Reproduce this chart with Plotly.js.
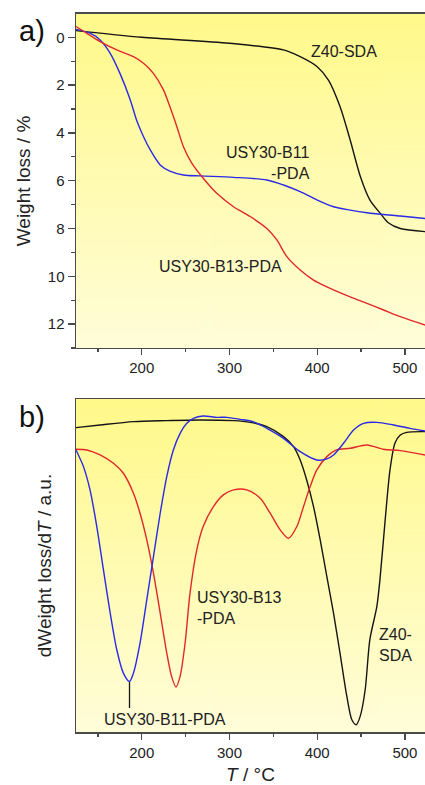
<!DOCTYPE html>
<html><head><meta charset="utf-8">
<script src="https://cdn.plot.ly/plotly-3.0.1.min.js"></script>
<style>html,body{margin:0;padding:0;overflow:hidden;background:#fff}</style>
</head><body>
<div id="chart" style="width:425px;height:785px"></div>
<script>
// ---- Panel a) TGA: weight loss (%) vs T (°C)
const tgaZ40T   = [125,200,300,361.6,380,400,413,426,437.6,449,460,472,481,494.7,523];
const tgaZ40W   = [-0.28,0.0,0.25,0.53,0.8,1.23,1.8,2.9,4.3,5.8,6.8,7.37,7.76,8.0,8.13];
const tgaB11T   = [125,141,152.5,164,175,186.7,194,202,209.5,221,232,247.5,266.5,304.6,342.6,361.6,380.6,399.6,418.6,437.6,456.7,494.7,523];
const tgaB11W   = [-0.33,-0.17,0.11,0.67,1.5,2.6,3.46,4.16,4.7,5.34,5.6,5.76,5.8,5.86,5.97,6.18,6.46,6.8,7.09,7.23,7.34,7.48,7.58];
const tgaB13T   = [125,137,152.5,171.5,190.5,202,213,224.7,232,240,247.5,257,270,285.5,304.6,323.6,342.6,354,365.4,380.6,395.8,411,437.6,456.7,475.7,494.7,523];
const tgaB13W   = [-0.45,-0.17,0.18,0.53,0.81,1.09,1.5,2.2,2.9,3.74,4.58,5.27,5.9,6.53,7.09,7.5,8.0,8.48,9.18,9.74,10.16,10.44,10.86,11.13,11.41,11.69,12.04];

// ---- Panel b) DTG: dWeight loss/dT (a.u.) vs T (°C)
const dtgZ40T = [125,152.5,190.5,228.5,266.5,304.6,323.6,342.6,361.6,373,380.6,388,395.8,403.4,411,418.6,426,433.8,439.5,444.5,449,454.7,460,468,471.5,477.5,483,488.6,494.7,502,523];
const dtgZ40V = [-8.6,-7.8,-6.8,-6.5,-6.3,-6.5,-7.0,-8.3,-11.3,-14.3,-18.3,-24.3,-32.3,-42.3,-53.3,-64.3,-76.3,-89.3,-96.3,-97.8,-95.3,-87.3,-72.3,-62.3,-54.3,-36.3,-21.3,-13.3,-10.8,-10.0,-9.8];
const dtgB11T = [125,133.5,141,148.7,156.3,164,171.5,179,186,190.5,198,205.7,213.3,221,228.5,236,243.7,251.3,259,270,285.5,297,312,327,342.6,361.6,380.6,399.6,411,418.6,430,441.4,452.8,468,487,505.7,523];
const dtgB11V = [-15.3,-20.3,-27.3,-38.3,-51.3,-64.3,-75.3,-82.3,-84.8,-82.3,-73.3,-60.3,-47.3,-34.3,-23.3,-15.3,-10.3,-7.3,-5.8,-5.1,-5.5,-5.5,-6.1,-6.8,-8.8,-11.8,-15.8,-18.3,-18.0,-16.8,-13.3,-9.3,-7.3,-7.0,-7.8,-8.8,-9.6];
const dtgB13T = [125,137.3,152.5,167.7,179,190.5,198,205.7,213.3,221,228.5,234,239,243.7,249.4,255,262.7,270,281.7,293,304.6,319.8,335,346.4,357.8,367.3,376.8,384.4,392,399.6,411,422,437.6,456.7,475.7,494.7,523];
const dtgB13V = [-15.1,-15.3,-16.8,-19.3,-22.3,-28.3,-34.3,-42.3,-52.3,-64.3,-76.3,-83.3,-86.5,-83.3,-73.3,-58.3,-45.3,-38.3,-32.3,-28.8,-27.3,-27.3,-29.8,-34.3,-39.3,-41.8,-38.3,-32.3,-26.3,-21.3,-17.3,-15.3,-14.8,-13.8,-15.1,-15.5,-16.8];

const BLACK = '#151515', BLUE = '#2a2ae6', RED = '#e0282c';
const FONT = 'Liberation Sans, Arial, sans-serif';
const AX = '#4a4a4a';

function grad(){
  const c = document.createElement('canvas'); c.width = 4; c.height = 256;
  const g = c.getContext('2d'); const lg = g.createLinearGradient(0,0,0,256);
  lg.addColorStop(0,'#fff98a'); lg.addColorStop(1,'#fffdd9');
  g.fillStyle = lg; g.fillRect(0,0,4,256); return c.toDataURL();
}
const bg = grad();

const line = (x,y,c,xa,ya,name) => ({x:x,y:y,type:'scatter',mode:'lines',name:name,
  line:{color:c,width:1.4,shape:'spline',smoothing:0.8},xaxis:xa,yaxis:ya,hoverinfo:'x+y'});

const data = [
  line(tgaZ40T,tgaZ40W,BLACK,'x','y','Z40-SDA'),
  line(tgaB11T,tgaB11W,BLUE,'x','y','USY30-B11-PDA'),
  line(tgaB13T,tgaB13W,RED,'x','y','USY30-B13-PDA'),
  line(dtgZ40T,dtgZ40V,BLACK,'x2','y2','Z40-SDA'),
  line(dtgB13T,dtgB13V,RED,'x2','y2','USY30-B13-PDA'),
  line(dtgB11T,dtgB11V,BLUE,'x2','y2','USY30-B11-PDA')
];

const axCommon = {linecolor:AX,linewidth:1.5,ticks:'outside',tickcolor:AX,
  tickwidth:1.3,showgrid:false,zeroline:false,tickfont:{family:FONT,size:15,color:'#222'}};

const xax = (anc) => Object.assign({}, axCommon, {range:[125,522.9],domain:[0,1],anchor:anc,
  tickmode:'linear',tick0:0,dtick:100,ticklen:6,mirror:true,
  minor:{tick0:0,dtick:50,ticklen:3,ticks:'outside',tickcolor:AX,tickwidth:1.3,showgrid:false}});

const layout = {
  width:425,height:785,autosize:false,showlegend:false,
  margin:{l:76,r:0,t:0,b:0},
  paper_bgcolor:'#fff',plot_bgcolor:'rgba(0,0,0,0)',
  font:{family:FONT,color:'#222'},
  xaxis:xax('y'),
  yaxis:Object.assign({},axCommon,{domain:[0.5567,0.9822],range:[13.0,-0.975],
    tickmode:'linear',tick0:0,dtick:2,ticklen:7,
    minor:{tick0:1,dtick:1,ticklen:4,ticks:'outside',tickcolor:AX,tickwidth:1.3,showgrid:false},
    title:{text:'Weight loss / %',font:{family:FONT,size:19,color:'#222'},standoff:12}}),
  xaxis2:Object.assign(xax('y2'),{title:{text:'<i>T</i> / °C',font:{family:FONT,size:19,color:'#222'},standoff:10}}),
  yaxis2:Object.assign({},axCommon,{domain:[0.0675,0.4917],range:[-100,0],anchor:'x2',
    showticklabels:false,ticks:'',
    title:{text:'dWeight loss/d<i>T</i> / a.u.',font:{family:FONT,size:19,color:'#222'},standoff:18}}),
  images:[
    {source:bg,xref:'x domain',yref:'y domain',x:0,y:1,sizex:1,sizey:1,sizing:'stretch',layer:'below',xanchor:'left',yanchor:'top'},
    {source:bg,xref:'x2 domain',yref:'y2 domain',x:0,y:1,sizex:1,sizey:1,sizing:'stretch',layer:'below',xanchor:'left',yanchor:'top'}
  ],
  shapes:[
    {type:'line',xref:'x2',yref:'y2',x0:186,x1:186,y0:-85,y1:-92.8,line:{color:BLACK,width:1.3}}
  ],
  annotations:[
    {text:'a)',xref:'paper',yref:'paper',x:-59/349,y:1-31/785,xanchor:'left',yanchor:'middle',showarrow:false,font:{family:FONT,size:29,color:'#111'}},
    {text:'b)',xref:'paper',yref:'paper',x:-59/349,y:1-417/785,xanchor:'left',yanchor:'middle',showarrow:false,font:{family:FONT,size:29,color:'#111'}},
    {text:'Z40-SDA',xref:'x',yref:'y',x:390.2,y:0.6,xanchor:'left',yanchor:'middle',showarrow:false,font:{family:FONT,size:16,color:'#222'}},
    {text:'USY30-B11<br>-PDA',xref:'x',yref:'y',x:393.8,y:5.24,xanchor:'right',yanchor:'middle',align:'right',showarrow:false,font:{family:FONT,size:16,color:'#222'}},
    {text:'USY30-B13-PDA',xref:'x',yref:'y',x:217.8,y:9.57,xanchor:'left',yanchor:'middle',showarrow:false,font:{family:FONT,size:16,color:'#222'}},
    {text:'USY30-B13<br>-PDA',xref:'x2',yref:'y2',x:261,y:-62.8,xanchor:'left',yanchor:'middle',align:'left',showarrow:false,font:{family:FONT,size:16,color:'#222'}},
    {text:'Z40-<br>SDA',xref:'x2',yref:'y2',x:468,y:-74,xanchor:'left',yanchor:'middle',align:'left',showarrow:false,font:{family:FONT,size:16,color:'#222'}},
    {text:'USY30-B11-PDA',xref:'x2',yref:'y2',x:154.4,y:-96.3,xanchor:'left',yanchor:'middle',showarrow:false,font:{family:FONT,size:16,color:'#222'}}
  ]
};

Plotly.newPlot('chart',data,layout,{staticPlot:true,displayModeBar:false});
</script>
</body></html>
